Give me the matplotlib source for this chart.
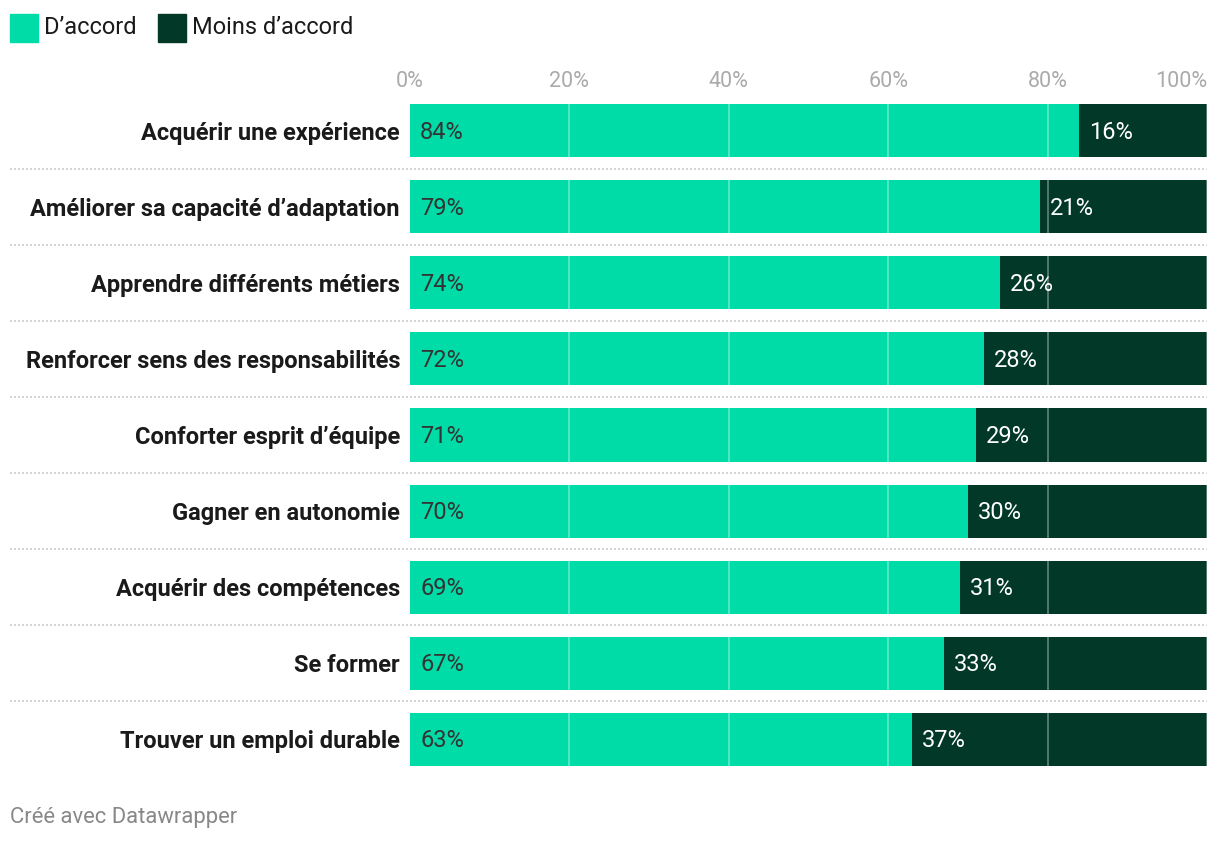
import matplotlib.pyplot as plt
import matplotlib.transforms as mtransforms
from matplotlib.patches import Rectangle

# Données
categories = [
    "Acquérir une expérience",
    "Améliorer sa capacité d’adaptation",
    "Apprendre différents métiers",
    "Renforcer sens des responsabilités",
    "Conforter esprit d’équipe",
    "Gagner en autonomie",
    "Acquérir des compétences",
    "Se former",
    "Trouver un emploi durable",
]
d_accord = [84, 79, 74, 72, 71, 70, 69, 67, 63]
moins_d_accord = [16, 21, 26, 28, 29, 30, 31, 33, 37]
series_names = ["D’accord", "Moins d’accord"]
x_ticks = [0, 20, 40, 60, 80, 100]

green = "#00dca7"
dark = "#013828"

plt.rcParams['font.family'] = ['Roboto', 'DejaVu Sans']

W, H = 1220, 844
fig = plt.figure(figsize=(W / 100, H / 100), dpi=100)
ax = fig.add_axes([410 / W, 1 - 766 / H, (1207 - 410) / W, (766 - 104) / H])

bar_h = 53 / 76
half = bar_h / 2
y = list(range(len(categories)))

ax.barh(y, d_accord, height=bar_h, color=green, zorder=1)
ax.barh(y, moins_d_accord, left=d_accord, height=bar_h, color=dark, zorder=1)

# lignes de grille par-dessus les barres
for t in x_ticks[1:]:
    ax.axvline(t, color="white", alpha=0.35, lw=1.3, zorder=2)

ax.set_xlim(0, 100)
ax.set_ylim(len(categories) - 1 + half, -half)

# étiquettes des valeurs
off = mtransforms.ScaledTranslation(10 / 100, -1.5 / 100, fig.dpi_scale_trans)
for i, (a, b) in enumerate(zip(d_accord, moins_d_accord)):
    ax.text(0, i, f"{a}%", transform=ax.transData + off, ha="left", va="center",
            fontsize=17, color="#333333", zorder=3)
    ax.text(a, i, f"{b}%", transform=ax.transData + off, ha="left", va="center",
            fontsize=17, color="white", zorder=3)

# catégories
ax.set_yticks(y)
ax.set_yticklabels(categories, fontsize=17, fontweight="bold", color="#1a1a1a")
ax.tick_params(axis="y", length=0, pad=7.2)
ax.set_xticks([])
for s in ax.spines.values():
    s.set_visible(False)

# graduations en haut
for t in x_ticks:
    ha = "right" if t == 100 else "center"
    ax.annotate(f"{t}%", xy=(t, 1), xycoords=("data", "axes fraction"),
                xytext=(0, 16.5), textcoords="offset points", ha=ha, va="center",
                fontsize=15.5, color="#aaaaaa")

# séparateurs pointillés
tr = mtransforms.blended_transform_factory(fig.transFigure, ax.transData)
for i in range(len(categories) - 1):
    ax.plot([10 / W, 1207 / W], [i + 0.5, i + 0.5], transform=tr, clip_on=False,
            color="#cccccc", lw=1.2, ls=(0, (1.2, 1.2)), zorder=0)

# légende
legend_x = [10, 158]
for name, col, lx in zip(series_names, [green, dark], legend_x):
    fig.patches.append(Rectangle((lx / W, 1 - 42 / H), 28 / W, 28 / H,
                                 transform=fig.transFigure, color=col))
    fig.text((lx + 34) / W, 1 - 27 / H, name, ha="left", va="center",
             fontsize=17, color="#1a1a1a")

# source
fig.text(10 / W, 1 - 818 / H, "Créé avec Datawrapper", ha="left", va="center",
         fontsize=15.8, color="#888888")

fig.savefig("out.png", dpi=100)
